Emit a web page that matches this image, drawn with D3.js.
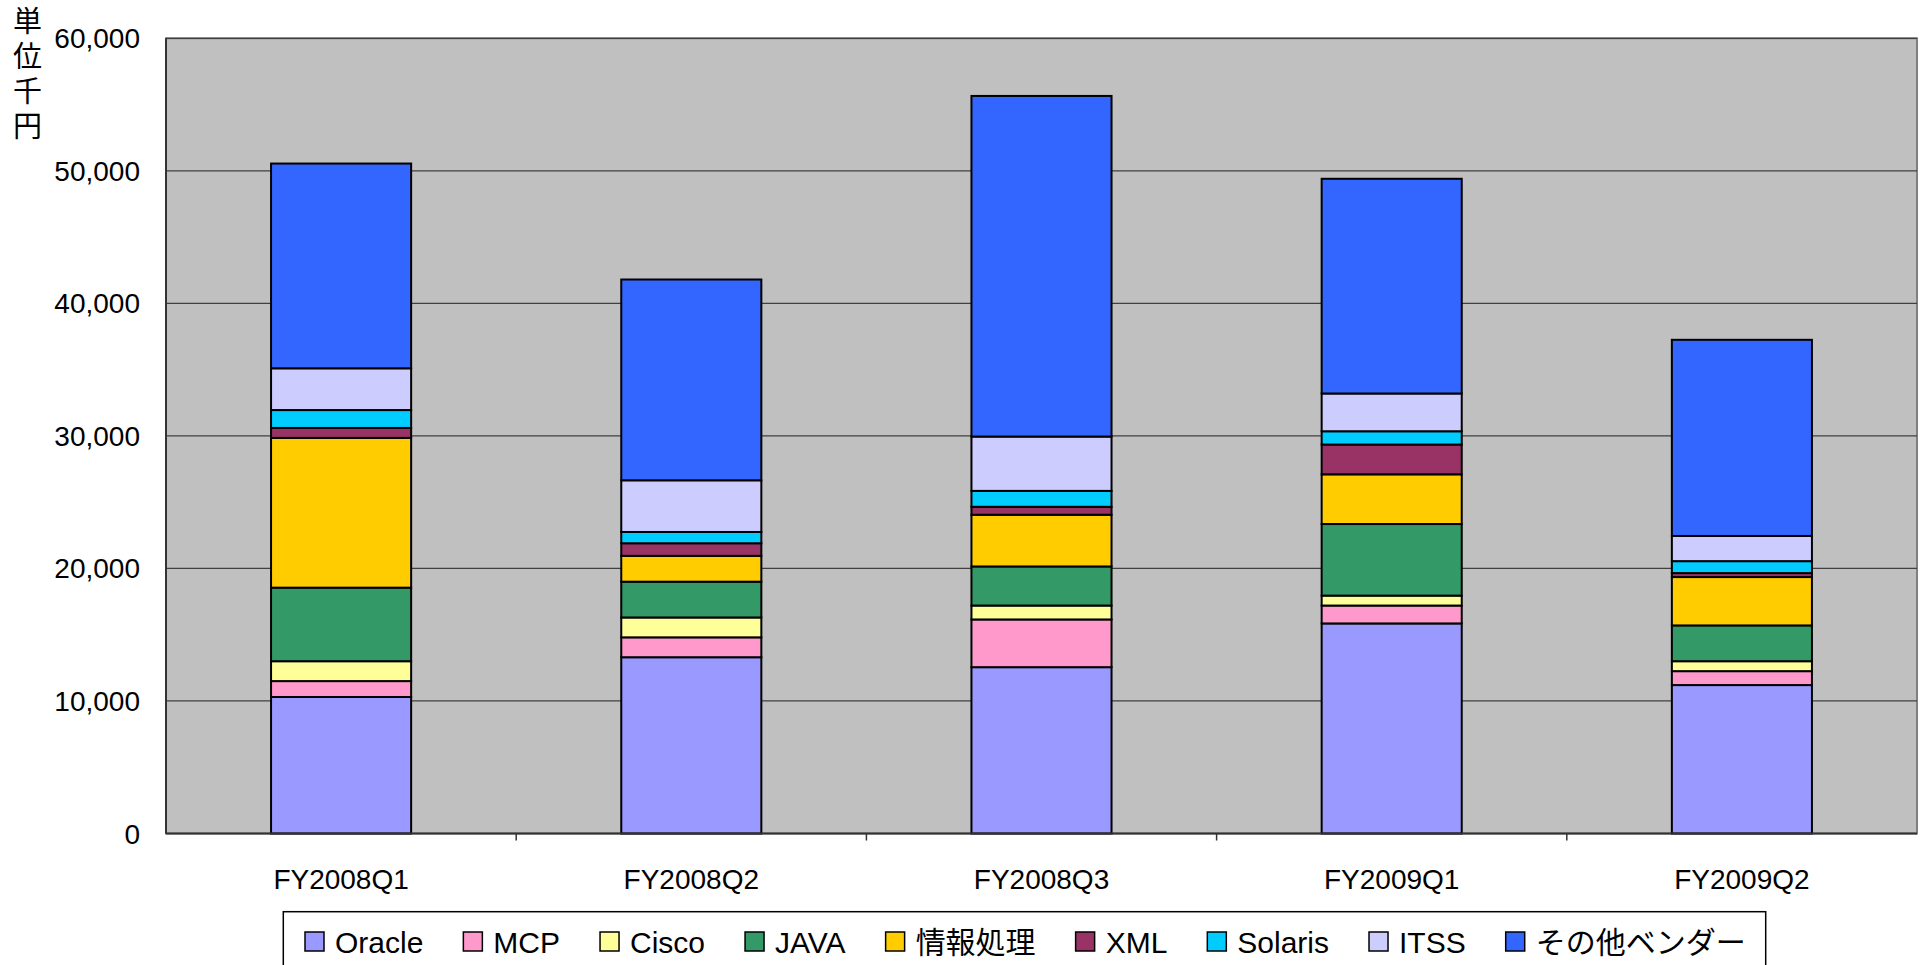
<!DOCTYPE html>
<html lang="ja">
<head>
<meta charset="utf-8">
<title>資格別売上</title>
<script src="https://cdn.jsdelivr.net/npm/d3@7/dist/d3.min.js"></script>
<style>
  html, body { margin: 0; padding: 0; background: #fff; }
  svg { display: block; }
  text { font-family: "Liberation Sans", Arial, "Noto Sans CJK JP", sans-serif; fill: #000; }
</style>
</head>
<body>
<div id="chart"></div>
<script>
// 四半期ごとの資格別売上（単位: 千円）
const quarters = ['FY2008Q1', 'FY2008Q2', 'FY2008Q3', 'FY2009Q1', 'FY2009Q2'];
const seriesNames = ['Oracle', 'MCP', 'Cisco', 'JAVA', '情報処理', 'XML', 'Solaris', 'ITSS', 'その他ベンダー'];
const seriesColors = ['#9999FF', '#FF99CC', '#FFFF99', '#339966', '#FFCC00', '#993366', '#00CCFF', '#CCCCFF', '#3366FF'];

const oracle  = [10300, 13300, 12550, 15850, 11200];
const mcp     = [1200, 1500, 3600, 1350, 1050];
const cisco   = [1500, 1500, 1050, 750, 750];
const java    = [5550, 2700, 2950, 5400, 2700];
const joho    = [11300, 1950, 3900, 3750, 3650];
const xml     = [750, 950, 600, 2250, 300];
const solaris = [1350, 850, 1200, 1000, 900];
const itss    = [3150, 3900, 4100, 2850, 1900];
const others  = [15450, 15150, 25700, 16200, 14800];

const yTicks = [0, 10000, 20000, 30000, 40000, 50000, 60000];

const W = 1927, H = 965;
const plot = { left: 166, top: 38.3, right: 1917, bottom: 833.5 };

// d3.stack 用の行データ
const seriesValues = [oracle, mcp, cisco, java, joho, xml, solaris, itss, others];
const rows = quarters.map((q, i) => {
  const r = { quarter: q };
  seriesNames.forEach((name, s) => { r[name] = seriesValues[s][i]; });
  return r;
});

const svg = d3.select('#chart').append('svg')
  .attr('width', W)
  .attr('height', H);

svg.append('rect').attr('width', W).attr('height', H).attr('fill', '#fff');

const x = d3.scaleBand()
  .domain(quarters)
  .range([plot.left, plot.right])
  .paddingInner(0.6)
  .paddingOuter(0.3);

const y = d3.scaleLinear()
  .domain([0, 60000])
  .range([plot.bottom, plot.top]);

// Plot background
svg.append('rect')
  .attr('x', plot.left).attr('y', plot.top)
  .attr('width', plot.right - plot.left)
  .attr('height', plot.bottom - plot.top)
  .attr('fill', '#C0C0C0')
  .attr('stroke', '#808080')
  .attr('stroke-width', 2);

// Gridlines
svg.append('g')
  .selectAll('line')
  .data(yTicks.filter(t => t > 0))
  .join('line')
  .attr('x1', plot.left).attr('x2', plot.right)
  .attr('y1', d => y(d)).attr('y2', d => y(d))
  .attr('stroke', '#404040')
  .attr('stroke-width', 1.2);

// Stacked bars
const stacked = d3.stack().keys(seriesNames)(rows);

svg.append('g')
  .selectAll('g')
  .data(stacked)
  .join('g')
  .attr('fill', (d, i) => seriesColors[i])
  .selectAll('rect')
  .data(d => d)
  .join('rect')
  .attr('x', d => x(d.data.quarter))
  .attr('width', x.bandwidth())
  .attr('y', d => y(d[1]))
  .attr('height', d => y(d[0]) - y(d[1]))
  .attr('stroke', '#000')
  .attr('stroke-width', 2);

// Axes lines
svg.append('line')
  .attr('x1', plot.left).attr('x2', plot.left)
  .attr('y1', plot.top).attr('y2', plot.bottom)
  .attr('stroke', '#333').attr('stroke-width', 2);
svg.append('line')
  .attr('x1', plot.left).attr('x2', plot.right)
  .attr('y1', plot.bottom).attr('y2', plot.bottom)
  .attr('stroke', '#333').attr('stroke-width', 2);

// Category separator ticks
const step = x.step();
svg.append('g')
  .selectAll('line')
  .data(quarters.slice(1))
  .join('line')
  .attr('x1', d => x(d) - step * 0.3)
  .attr('x2', d => x(d) - step * 0.3)
  .attr('y1', plot.bottom).attr('y2', plot.bottom + 7)
  .attr('stroke', '#333').attr('stroke-width', 1.5);

// Y tick labels
svg.append('g')
  .selectAll('text')
  .data(yTicks)
  .join('text')
  .attr('x', 140)
  .attr('y', d => y(d) + 10)
  .attr('text-anchor', 'end')
  .attr('font-size', '28px')
  .text(d => d3.format(',')(d));

// X tick labels
svg.append('g')
  .selectAll('text')
  .data(quarters)
  .join('text')
  .attr('x', d => x(d) + x.bandwidth() / 2)
  .attr('y', 889)
  .attr('text-anchor', 'middle')
  .attr('font-size', '28px')
  .text(d => d);

// 縦書きの単位ラベル
svg.append('text')
  .attr('x', 27.5)
  .attr('y', 6)
  .attr('font-size', '29px')
  .style('font-family', '"Noto Sans CJK JP", sans-serif')
  .style('writing-mode', 'vertical-rl')
  .style('letter-spacing', '6px')
  .text('単位千円');

// Legend
const legend = svg.append('g');
legend.append('rect')
  .attr('x', 283.3).attr('y', 911.7)
  .attr('width', 1765.7 - 283.3).attr('height', 80)
  .attr('fill', '#fff')
  .attr('stroke', '#000')
  .attr('stroke-width', 1.5);

let lx = 305;
seriesNames.forEach((name, i) => {
  legend.append('rect')
    .attr('x', lx).attr('y', 932)
    .attr('width', 19).attr('height', 19)
    .attr('fill', seriesColors[i])
    .attr('stroke', '#000')
    .attr('stroke-width', 1.5);
  const t = legend.append('text')
    .attr('x', lx + 30)
    .attr('y', 952.5)
    .attr('font-size', '30px')
    .text(name);
  lx += 30 + t.node().getComputedTextLength() + 40;
});
</script>
</body>
</html>
